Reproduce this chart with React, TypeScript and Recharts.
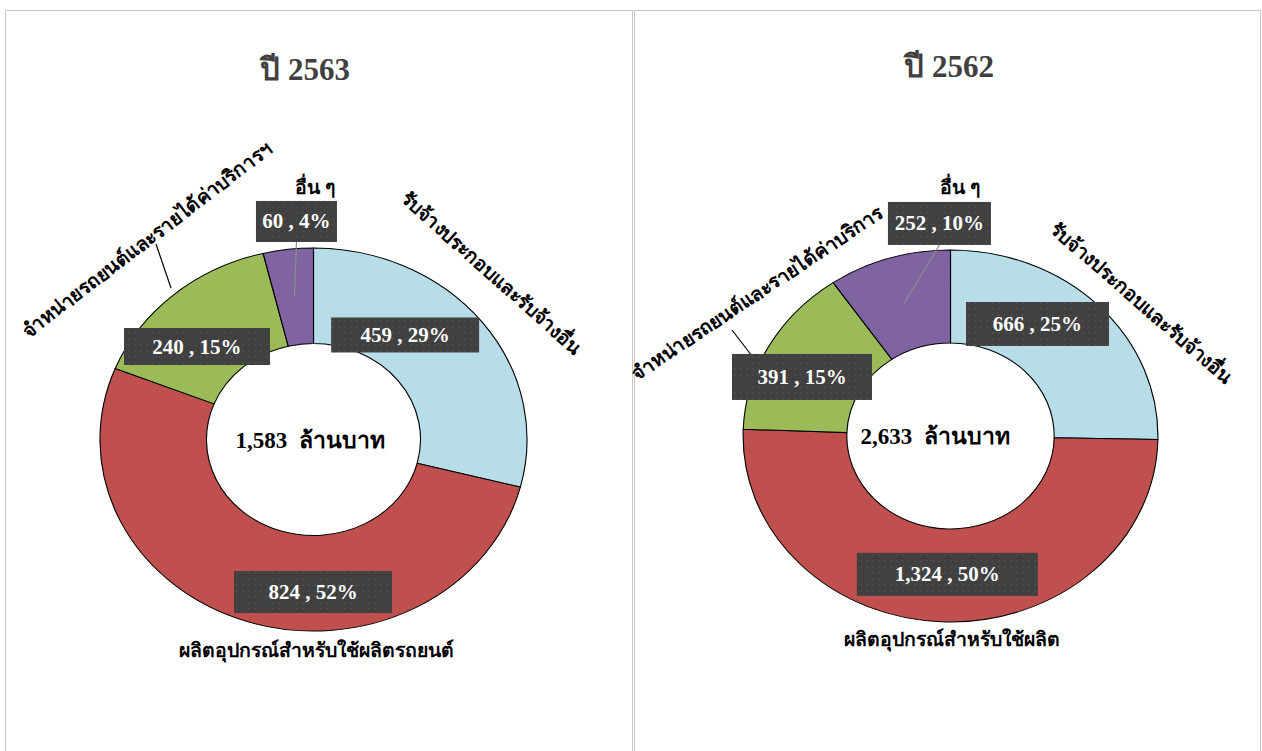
import React from 'react';
import { PieChart, Pie, Cell } from 'recharts';

// ---------- data ----------
const titles = ['ปี 2563', 'ปี 2562'];
const unitLabel = 'ล้านบาท';
const categories2563 = [
  'รับจ้างประกอบและรับจ้างอื่น',
  'ผลิตอุปกรณ์สำหรับใช้ผลิตรถยนต์',
  'จำหน่ายรถยนต์และรายได้ค่าบริการฯ',
  'อื่น ๆ',
];
const categories2562 = [
  'รับจ้างประกอบและรับจ้างอื่น',
  'ผลิตอุปกรณ์สำหรับใช้ผลิต',
  'จำหน่ายรถยนต์และรายได้ค่าบริการ',
  'อื่น ๆ',
];
const values2563 = [459, 824, 240, 60];
const values2562 = [666, 1324, 391, 252];
const sliceColors = ['#B7DEE8', '#C0504D', '#9BBB59', '#8064A2'];

const data2563 = categories2563.map((name, i) => ({ name, value: values2563[i] }));
const data2562 = categories2562.map((name, i) => ({ name, value: values2562[i] }));
const datasets = [data2563, data2562];

// ---------- layout ----------
const W = 1262;
const H = 751;
const SX = 1.115; // horizontal stretch of the doughnuts
const FONT = "'Liberation Serif', 'Times New Roman', serif";
const NO_MARGIN = { top: 0, right: 0, bottom: 0, left: 0 };

const geom = [
  { cx: 313.5, cy: 439.5, outer: 191.5, inner: 96, titleX: 305, titleY: 70, centerX: 310, centerY: 441 },
  { cx: 950.5, cy: 436, outer: 186, inner: 93, titleX: 949, titleY: 67, centerX: 935, centerY: 437 },
];

// value box nudges from slice mid-ring point, and box sizes
const boxLayouts = [
  [
    { dx: -35, dy: -16.4, w: 148, h: 35, leader: false },
    { dx: 49.3, dy: 15.9, w: 158, h: 42, leader: false },
    { dx: -11.5, dy: 15.6, w: 146, h: 37, leader: false },
    { dx: 2, dy: -75.3, w: 81, h: 41, leader: true },
  ],
  [
    { dx: -24, dy: -14.3, w: 143, h: 44, leader: false },
    { dx: 1.1, dy: -1.1, w: 181, h: 43, leader: false },
    { dx: -12.2, dy: 8.2, w: 140, h: 46, leader: false },
    { dx: 35, dy: -79.3, w: 103, h: 43, leader: true },
  ],
];

// category label positions relative to pie centre (rotation in degrees)
const catLayouts = [
  [
    { dx: 177.5, dy: -166.5, rot: 41.7 },
    { dx: 3, dy: 211, rot: 0 },
    { dx: -166.5, dy: -199.5, rot: -37.4 },
    { dx: 1.5, dy: -252.5, rot: 0 },
  ],
  [
    { dx: 190.5, dy: -133, rot: 41 },
    { dx: 1.2, dy: 203, rot: 0 },
    { dx: -193, dy: -143, rot: -33.6 },
    { dx: 9.5, dy: -249, rot: 0 },
  ],
];

// black connector for the category label of the green slice
const catLeaders = [
  { index: 2, x1: -142.5, y1: -151.5, x2: -157.5, y2: -195.5 },
  { index: 2, x1: -198.5, y1: -80, x2: -218.5, y2: -106 },
];

const RAD = Math.PI / 180;

const makeLabel = (ci: number) => (p: any) => {
  const L = boxLayouts[ci][p.index];
  const C = catLayouts[ci][p.index];
  const rMid = (p.innerRadius + p.outerRadius) / 2;
  const mx = p.cx + SX * rMid * Math.cos(-p.midAngle * RAD);
  const my = p.cy + rMid * Math.sin(-p.midAngle * RAD);
  const bx = mx + L.dx;
  const by = my + L.dy;
  const pct = Math.round(p.percent * 100);
  const text = `${Number(p.value).toLocaleString('en-US')} , ${pct}%`;
  const cl = catLeaders[ci];
  return (
    <g>
      {ci === 0 && p.index === 0 && (
        <defs>
          <pattern id="dots" width="6" height="6" patternUnits="userSpaceOnUse">
            <rect width="6" height="6" fill="#404040" />
            <circle cx="3" cy="3" r="1" fill="#4c4c4c" />
          </pattern>
        </defs>
      )}
      {L.leader && (
        <line x1={bx} y1={by + L.h / 2} x2={mx} y2={my} stroke="#8c8c8c" strokeWidth={1.2} />
      )}
      {cl.index === p.index && (
        <line
          x1={p.cx + cl.x1}
          y1={p.cy + cl.y1}
          x2={p.cx + cl.x2}
          y2={p.cy + cl.y2}
          stroke="#000"
          strokeWidth={1.2}
        />
      )}
      <rect x={bx - L.w / 2} y={by - L.h / 2} width={L.w} height={L.h} fill="url(#dots)" />
      <text
        x={bx}
        y={by}
        textAnchor="middle"
        dominantBaseline="central"
        fill="#ffffff"
        fontFamily={FONT}
        fontWeight="bold"
        fontSize={21}
      >
        {text}
      </text>
      <text
        x={p.cx + C.dx}
        y={p.cy + C.dy}
        textAnchor="middle"
        dominantBaseline="central"
        fill="#000"
        fontFamily={FONT}
        fontWeight="bold"
        fontSize={19.4}
        transform={`rotate(${C.rot} ${p.cx + C.dx} ${p.cy + C.dy})`}
      >
        {p.name}
      </text>
    </g>
  );
};

export default function App() {
  return (
    <div style={{ position: 'absolute', left: 0, top: 0, width: W, height: H, overflow: 'hidden', background: '#fff' }}>
      {/* panel frames */}
      <div style={{ position: 'absolute', left: 5, top: 10, width: 626, height: 760, border: '1px solid #c8c8c8' }} />
      <div style={{ position: 'absolute', left: 634, top: 10, width: 625, height: 760, border: '1px solid #c8c8c8' }} />

      {/* doughnut rings (stretched horizontally) */}
      <div style={{ position: 'absolute', left: 0, top: 0, transform: `scaleX(${SX})`, transformOrigin: '0 0' }}>
        <PieChart width={Math.ceil(W / SX)} height={H} margin={NO_MARGIN}>
          {datasets.map((d, ci) => (
            <Pie
              key={ci}
              data={d}
              dataKey="value"
              nameKey="name"
              cx={geom[ci].cx / SX}
              cy={geom[ci].cy}
              outerRadius={geom[ci].outer}
              innerRadius={geom[ci].inner}
              startAngle={90}
              endAngle={-270}
              stroke="#000"
              strokeWidth={1}
              isAnimationActive={false}
            >
              {d.map((_, i) => (
                <Cell key={i} fill={sliceColors[i]} />
              ))}
            </Pie>
          ))}
        </PieChart>
      </div>

      {/* labels layer */}
      <div style={{ position: 'absolute', left: 0, top: 0 }}>
        <PieChart width={W} height={H} margin={NO_MARGIN}>
          {datasets.map((d, ci) => (
            <Pie
              key={ci}
              data={d}
              dataKey="value"
              nameKey="name"
              cx={geom[ci].cx}
              cy={geom[ci].cy}
              outerRadius={geom[ci].outer}
              innerRadius={geom[ci].inner}
              startAngle={90}
              endAngle={-270}
              fill="none"
              stroke="none"
              label={makeLabel(ci)}
              labelLine={false}
              isAnimationActive={false}
            >
              {d.map((_, i) => (
                <Cell key={i} fill="none" stroke="none" />
              ))}
            </Pie>
          ))}
        </PieChart>
      </div>

      {/* titles and totals */}
      {geom.map((g, ci) => (
        <React.Fragment key={ci}>
          <div
            style={{
              position: 'absolute',
              left: g.titleX - 150,
              width: 300,
              top: g.titleY - 20,
              height: 40,
              lineHeight: '40px',
              textAlign: 'center',
              fontFamily: FONT,
              fontWeight: 'bold',
              fontSize: 31,
              color: '#404040',
            }}
          >
            {titles[ci]}
          </div>
          <div
            style={{
              position: 'absolute',
              left: g.centerX - 120,
              width: 240,
              top: g.centerY - 15,
              height: 30,
              lineHeight: '30px',
              textAlign: 'center',
              whiteSpace: 'pre',
              fontFamily: FONT,
              fontWeight: 'bold',
              fontSize: 23,
              color: '#000',
            }}
          >
            {`${datasets[ci].reduce((s, e) => s + e.value, 0).toLocaleString('en-US')}  ${unitLabel}`}
          </div>
        </React.Fragment>
      ))}
    </div>
  );
}
